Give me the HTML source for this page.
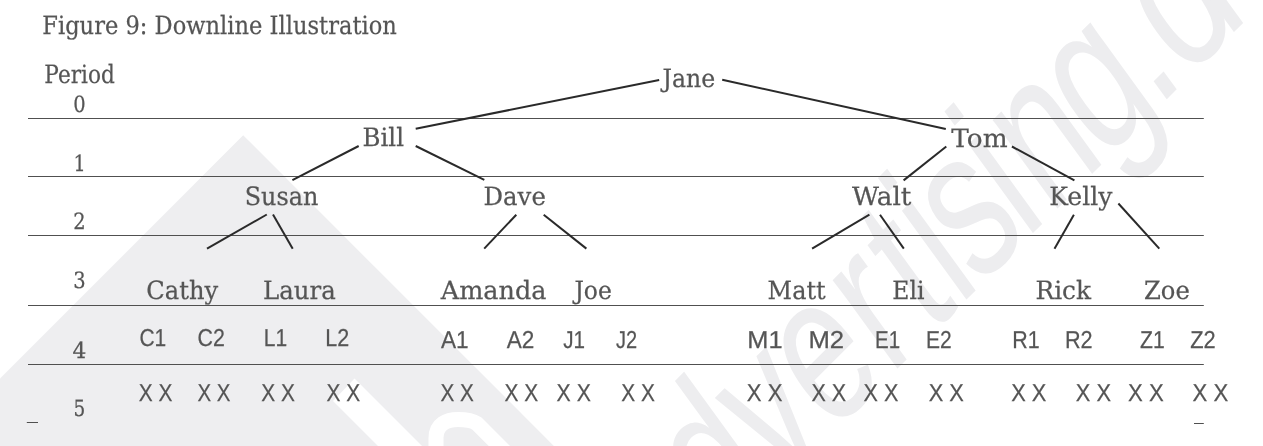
<!DOCTYPE html>
<html lang="en"><head><meta charset="utf-8"><title>Figure 9: Downline Illustration</title>
<style>
html,body{margin:0;padding:0;background:#fff;overflow:hidden}
svg{display:block}
.sf,.sn{text-rendering:geometricPrecision}
.sf{font-family:"DejaVu Serif","Liberation Serif",serif;fill:#555;stroke:#555;stroke-width:.25px}
.sn{font-family:"Liberation Sans","DejaVu Sans",sans-serif;fill:#555;stroke:#555;stroke-width:.25px}
.wm{font-family:"Liberation Sans","DejaVu Sans",sans-serif;fill:#ededef}
.hl{stroke:#505050;stroke-width:1}
.tl{stroke:#2a2a2a;stroke-width:2;stroke-linecap:butt}
</style></head><body>
<svg width="1263" height="446" viewBox="0 0 1263 446">
<rect width="1263" height="446" fill="#fff"/>
<g id="wm">
<polygon points="243.2,135.3 -20,398.5 -20,470 577.9,470" fill="#eeeef0"/>
<polygon points="354.5,378.5 333,401 402,470 446,470" fill="#fff"/>
<path d="M436 462 L436 438 C436 424 447 419.5 458 419.5 C466 419.5 471.5 420 477 423.6 L522 468.6" fill="none" stroke="#fff" stroke-width="15"/>
<text class="wm" font-size="205" transform="translate(633,633) rotate(-45) translate(38.4,0) skewX(-9) scale(0.717,1)" dx="7.6 0.0 -1.3 -1.3 4.3 11.2 0.1 -8.2 -8.4 2.3 -8.8 -8.6 -1.9 -31.9 -13.6">advertising.org</text>
</g>

<line class="hl" x1="28" y1="118.5" x2="1203.8" y2="118.5"/>
<line class="hl" x1="28" y1="176.5" x2="1203.8" y2="176.5"/>
<line class="hl" x1="28" y1="235.5" x2="1203.8" y2="235.5"/>
<line class="hl" x1="28" y1="305.5" x2="1203.8" y2="305.5"/>
<line class="hl" x1="28" y1="364.5" x2="1203.8" y2="364.5"/>
<line class="hl" x1="26.8" y1="422.5" x2="38" y2="422.5"/>
<line class="hl" x1="1194" y1="423.5" x2="1203.8" y2="423.5"/>
<line class="tl" x1="659.2" y1="79.9" x2="415.7" y2="128.8"/>
<line class="tl" x1="722.2" y1="79.8" x2="945.8" y2="128.9"/>
<line class="tl" x1="358.7" y1="146.0" x2="292.4" y2="180.1"/>
<line class="tl" x1="415.7" y1="146.0" x2="484.3" y2="179.8"/>
<line class="tl" x1="946.3" y1="146.5" x2="903.6" y2="180.4"/>
<line class="tl" x1="1011.9" y1="146.5" x2="1074.4" y2="180.3"/>
<line class="tl" x1="266.8" y1="214.5" x2="207.0" y2="248.7"/>
<line class="tl" x1="273.0" y1="214.5" x2="292.7" y2="248.7"/>
<line class="tl" x1="516.3" y1="214.7" x2="484.2" y2="248.6"/>
<line class="tl" x1="543.7" y1="214.7" x2="586.4" y2="248.6"/>
<line class="tl" x1="869.4" y1="214.7" x2="812.1" y2="248.6"/>
<line class="tl" x1="880.0" y1="214.7" x2="903.8" y2="248.6"/>
<line class="tl" x1="1073.9" y1="214.8" x2="1054.5" y2="248.7"/>
<line class="tl" x1="1118.4" y1="203.5" x2="1159.3" y2="248.7"/>
<g id="labels" style="filter:grayscale(1)">
<text class="sf" x="42.3" y="33.9" font-size="25.2" textLength="354.5" lengthAdjust="spacingAndGlyphs">Figure 9: Downline Illustration</text>
<text class="sf" x="44.3" y="83.2" font-size="25.2" textLength="70.5" lengthAdjust="spacingAndGlyphs">Period</text>
<text class="sf" x="662.6" y="87.4" font-size="25.2" textLength="52.6" lengthAdjust="spacingAndGlyphs">Jane</text>
<text class="sf" x="362.5" y="146.4" font-size="25.2" textLength="41.5" lengthAdjust="spacingAndGlyphs">Bill</text>
<text class="sf" x="951.3" y="146.5" font-size="25.2" textLength="56.3" lengthAdjust="spacingAndGlyphs">Tom</text>
<text class="sf" x="244.70000000000002" y="205.2" font-size="25.2" textLength="73.6" lengthAdjust="spacingAndGlyphs">Susan</text>
<text class="sf" x="483.6" y="205.0" font-size="25.2" textLength="62.2" lengthAdjust="spacingAndGlyphs">Dave</text>
<text class="sf" x="852.0999999999999" y="204.6" font-size="25.2" textLength="59.3" lengthAdjust="spacingAndGlyphs">Walt</text>
<text class="sf" x="1049.3" y="204.8" font-size="25.2" textLength="63.1" lengthAdjust="spacingAndGlyphs">Kelly</text>
<text class="sf" x="146.3" y="299.0" font-size="25.2" textLength="71.8" lengthAdjust="spacingAndGlyphs">Cathy</text>
<text class="sf" x="263.1" y="299.0" font-size="25.2" textLength="72.7" lengthAdjust="spacingAndGlyphs">Laura</text>
<text class="sf" x="440.8" y="299.0" font-size="25.2" textLength="105.7" lengthAdjust="spacingAndGlyphs">Amanda</text>
<text class="sf" x="574.4" y="299.0" font-size="25.2" textLength="37.4" lengthAdjust="spacingAndGlyphs">Joe</text>
<text class="sf" x="767.5999999999999" y="299.0" font-size="25.2" textLength="58.1" lengthAdjust="spacingAndGlyphs">Matt</text>
<text class="sf" x="892.3" y="299.0" font-size="25.2" textLength="32.1" lengthAdjust="spacingAndGlyphs">Eli</text>
<text class="sf" x="1035.5" y="299.0" font-size="25.2" textLength="55.5" lengthAdjust="spacingAndGlyphs">Rick</text>
<text class="sf" x="1144.0" y="299.0" font-size="25.2" textLength="45.8" lengthAdjust="spacingAndGlyphs">Zoe</text>
<text class="sf" x="73.2" y="112.2" font-size="22.4" textLength="12.4" lengthAdjust="spacingAndGlyphs">0</text>
<text class="sf" x="73.6" y="171.0" font-size="22.4" textLength="12.2" lengthAdjust="spacingAndGlyphs">1</text>
<text class="sf" x="73.2" y="228.6" font-size="22.4" textLength="12.4" lengthAdjust="spacingAndGlyphs">2</text>
<text class="sf" x="73.2" y="288.3" font-size="22.4" textLength="12.4" lengthAdjust="spacingAndGlyphs">3</text>
<text class="sf" x="72.6" y="357.7" font-size="22.4" textLength="13.8" lengthAdjust="spacingAndGlyphs">4</text>
<text class="sf" x="73.4" y="416.2" font-size="22.4" textLength="11.8" lengthAdjust="spacingAndGlyphs">5</text>
<text class="sn" x="139.4" y="345.5" font-size="24.4" textLength="26.8" lengthAdjust="spacingAndGlyphs">C1</text>
<text class="sn" x="197.5" y="345.5" font-size="24.4" textLength="27.3" lengthAdjust="spacingAndGlyphs">C2</text>
<text class="sn" x="263.70000000000005" y="345.5" font-size="24.4" textLength="23.4" lengthAdjust="spacingAndGlyphs">L1</text>
<text class="sn" x="325.20000000000005" y="345.5" font-size="24.4" textLength="23.9" lengthAdjust="spacingAndGlyphs">L2</text>
<text class="sn" x="441.0" y="347.5" font-size="24.4" textLength="27.7" lengthAdjust="spacingAndGlyphs">A1</text>
<text class="sn" x="506.8" y="347.5" font-size="24.4" textLength="27.6" lengthAdjust="spacingAndGlyphs">A2</text>
<text class="sn" x="563.3" y="347.5" font-size="24.4" textLength="21.8" lengthAdjust="spacingAndGlyphs">J1</text>
<text class="sn" x="616.0" y="347.5" font-size="24.4" textLength="21.1" lengthAdjust="spacingAndGlyphs">J2</text>
<text class="sn" x="747.3000000000001" y="347.5" font-size="24.4" textLength="35.3" lengthAdjust="spacingAndGlyphs">M1</text>
<text class="sn" x="808.4" y="347.5" font-size="24.4" textLength="35.7" lengthAdjust="spacingAndGlyphs">M2</text>
<text class="sn" x="875.0" y="347.5" font-size="24.4" textLength="25.1" lengthAdjust="spacingAndGlyphs">E1</text>
<text class="sn" x="926.0" y="347.5" font-size="24.4" textLength="25.7" lengthAdjust="spacingAndGlyphs">E2</text>
<text class="sn" x="1012.2" y="347.5" font-size="24.4" textLength="27.4" lengthAdjust="spacingAndGlyphs">R1</text>
<text class="sn" x="1064.8999999999999" y="347.5" font-size="24.4" textLength="27.7" lengthAdjust="spacingAndGlyphs">R2</text>
<text class="sn" x="1140.0" y="347.5" font-size="24.4" textLength="24.7" lengthAdjust="spacingAndGlyphs">Z1</text>
<text class="sn" x="1190.2" y="347.5" font-size="24.4" textLength="25.5" lengthAdjust="spacingAndGlyphs">Z2</text>
<text class="sn" x="138.8" y="400.8" font-size="24.4" textLength="33.7" lengthAdjust="spacingAndGlyphs">X X</text>
<text class="sn" x="197.5" y="400.8" font-size="24.4" textLength="33.0" lengthAdjust="spacingAndGlyphs">X X</text>
<text class="sn" x="261.3" y="400.8" font-size="24.4" textLength="33.7" lengthAdjust="spacingAndGlyphs">X X</text>
<text class="sn" x="326.5" y="400.8" font-size="24.4" textLength="33.7" lengthAdjust="spacingAndGlyphs">X X</text>
<text class="sn" x="440.5" y="400.8" font-size="24.4" textLength="33.4" lengthAdjust="spacingAndGlyphs">X X</text>
<text class="sn" x="504.6" y="400.8" font-size="24.4" textLength="33.7" lengthAdjust="spacingAndGlyphs">X X</text>
<text class="sn" x="556.6" y="400.8" font-size="24.4" textLength="34.3" lengthAdjust="spacingAndGlyphs">X X</text>
<text class="sn" x="621.3" y="400.8" font-size="24.4" textLength="33.7" lengthAdjust="spacingAndGlyphs">X X</text>
<text class="sn" x="746.8" y="400.8" font-size="24.4" textLength="35.7" lengthAdjust="spacingAndGlyphs">X X</text>
<text class="sn" x="811.5" y="400.8" font-size="24.4" textLength="34.7" lengthAdjust="spacingAndGlyphs">X X</text>
<text class="sn" x="863.6" y="400.8" font-size="24.4" textLength="34.8" lengthAdjust="spacingAndGlyphs">X X</text>
<text class="sn" x="928.7" y="400.8" font-size="24.4" textLength="35.2" lengthAdjust="spacingAndGlyphs">X X</text>
<text class="sn" x="1011.2" y="400.8" font-size="24.4" textLength="35.2" lengthAdjust="spacingAndGlyphs">X X</text>
<text class="sn" x="1075.8" y="400.8" font-size="24.4" textLength="35.2" lengthAdjust="spacingAndGlyphs">X X</text>
<text class="sn" x="1128.0" y="400.8" font-size="24.4" textLength="35.7" lengthAdjust="spacingAndGlyphs">X X</text>
<text class="sn" x="1192.6" y="400.8" font-size="24.4" textLength="35.7" lengthAdjust="spacingAndGlyphs">X X</text>
</g>
</svg></body></html>
